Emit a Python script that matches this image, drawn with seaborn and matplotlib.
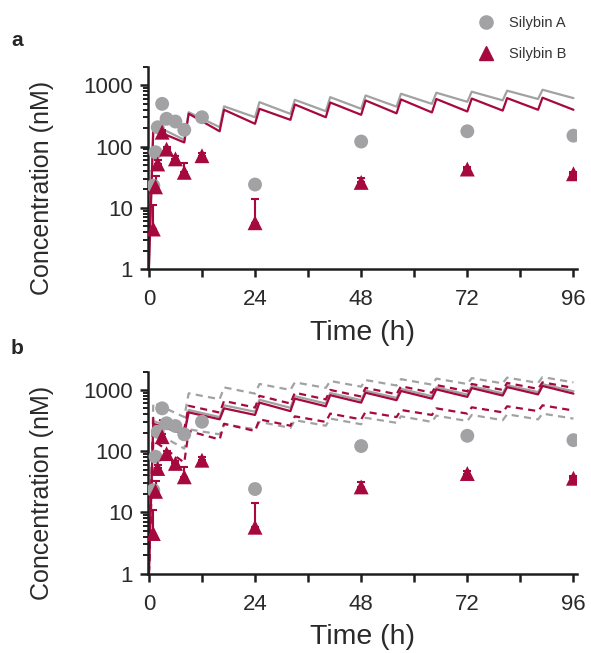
import numpy as np
import pandas as pd
import matplotlib
matplotlib.use("Agg")
import matplotlib.pyplot as plt
from matplotlib.lines import Line2D
from matplotlib.ticker import FixedLocator, LogLocator, NullFormatter
import seaborn as sns

# observed data (mean, upper error bar end)
obs_time = [1, 1.5, 2, 3, 4, 6, 8, 12, 24, 48, 72, 96]
silA_obs = [23, 81, 207, 500, 285, 257, 188, 302, 24, 121, 178, 151]
silA_err_hi = [26, 90, 230, 540, 310, 280, 205, 330, 29, 132, 192, 165]
silB_obs = [4.5, 22, 52, 172, 91, 63, 38, 71, 5.7, 26, 43, 36]
silB_err_hi = [11, 33, 60, 190, 100, 70, 55, 80, 14, 31, 47, 39]

# simulated profiles: dose every 8 h, peak ~1 h after dose, trough just before next dose
dose_h = [0, 8, 16, 24, 32, 40, 48, 56, 64, 72, 80, 88]
a_silA_peak = [230, 365, 455, 533, 582, 643, 685, 731, 760, 790, 820, 850]
a_silA_trough = [129, 208, 302, 343, 379, 415, 450, 500, 540, 570, 600, 620]
a_silB_peak = [190, 345, 400, 415, 488, 526, 568, 590, 600, 610, 620, 630]
a_silB_trough = [117, 178, 236, 274, 302, 331, 350, 362, 375, 388, 400, 400]

b_silA_mid_peak = [310, 470, 560, 690, 790, 890, 970, 1040, 1100, 1150, 1190, 1240]
b_silA_mid_trough = [210, 360, 440, 510, 600, 680, 740, 790, 840, 880, 920, 950]
b_silB_mid_peak = [280, 430, 500, 620, 720, 820, 900, 960, 1020, 1070, 1110, 1160]
b_silB_mid_trough = [190, 331, 390, 450, 540, 620, 680, 720, 770, 810, 845, 870]
b_silA_hi_peak = [620, 880, 1100, 1250, 1330, 1400, 1450, 1500, 1530, 1560, 1590, 1620]
b_silA_hi_trough = [360, 705, 870, 1000, 1080, 1130, 1180, 1220, 1250, 1280, 1300, 1330]
b_silB_hi_peak = [350, 550, 660, 800, 900, 1000, 1080, 1150, 1200, 1250, 1300, 1330]
b_silB_hi_trough = [230, 426, 515, 600, 700, 780, 850, 900, 950, 1000, 1040, 1080]
b_silA_lo_peak = [210, 227, 276, 300, 320, 340, 350, 370, 380, 390, 400, 410]
b_silA_lo_trough = [110, 188, 227, 240, 260, 275, 290, 300, 310, 320, 330, 340]
b_silB_lo_peak = [150, 213, 280, 330, 370, 410, 440, 470, 500, 520, 540, 560]
b_silB_lo_trough = [65, 155, 213, 260, 300, 330, 360, 390, 410, 430, 450, 460]

GRAY = "#a2a2a4"
RED = "#a6093d"
INK = "#1e1e1e"
palette = {"Silybin A": GRAY, "Silybin B": RED}


def profile(peaks, troughs, compound, band):
    t, c = [0.0], [1.0]
    for d, p, tr in zip(dose_h, peaks, troughs):
        t += [d + 1, d + 8]
        c += [p, tr]
    return pd.DataFrame({"time": t, "conc": c, "compound": compound, "band": band})


sim_a = pd.concat([
    profile(a_silA_peak, a_silA_trough, "Silybin A", "mid"),
    profile(a_silB_peak, a_silB_trough, "Silybin B", "mid"),
])
sim_b = pd.concat([
    profile(b_silA_hi_peak, b_silA_hi_trough, "Silybin A", "hi"),
    profile(b_silA_lo_peak, b_silA_lo_trough, "Silybin A", "lo"),
    profile(b_silB_hi_peak, b_silB_hi_trough, "Silybin B", "hi"),
    profile(b_silB_lo_peak, b_silB_lo_trough, "Silybin B", "lo"),
    profile(b_silA_mid_peak, b_silA_mid_trough, "Silybin A", "mid"),
    profile(b_silB_mid_peak, b_silB_mid_trough, "Silybin B", "mid"),
])

obs = pd.DataFrame({
    "time": obs_time * 2,
    "conc": silA_obs + silB_obs,
    "hi": silA_err_hi + silB_err_hi,
    "compound": ["Silybin A"] * len(obs_time) + ["Silybin B"] * len(obs_time),
})

sns.set_theme(style="ticks")
plt.rcParams["font.family"] = ["Liberation Sans", "DejaVu Sans"]

fig = plt.figure(figsize=(5.91, 6.53), dpi=100)
ax_a = fig.add_axes([148 / 591, 1 - 269 / 653, 429 / 591, 202 / 653])
ax_b = fig.add_axes([148 / 591, 1 - 573.5 / 653, 429 / 591, 202 / 653])


def draw(ax, sim):
    sns.lineplot(data=sim, x="time", y="conc", hue="compound", style="band",
                 palette=palette, dashes={"mid": "", "hi": (3.2, 2.4), "lo": (3.2, 2.4)},
                 estimator=None, sort=False, linewidth=1.6, legend=False, ax=ax, zorder=2)
    for comp, col in palette.items():
        sub = obs[obs["compound"] == comp]
        ax.errorbar(sub["time"], sub["conc"], yerr=[np.zeros(len(sub)), sub["hi"] - sub["conc"]],
                    fmt="none", ecolor=col, elinewidth=1.5, capsize=3, capthick=1.5, zorder=3)
    sns.scatterplot(data=obs, x="time", y="conc", hue="compound", style="compound",
                    markers={"Silybin A": "o", "Silybin B": "^"}, palette=palette,
                    size="compound", sizes={"Silybin A": 100, "Silybin B": 115},
                    edgecolor="none", legend=False, ax=ax, zorder=4)
    ax.set_yscale("log")
    ax.set_ylim(1, 2000)
    ax.set_xlim(-0.2, 96.8)
    ax.xaxis.set_major_locator(FixedLocator([0, 24, 48, 72, 96]))
    ax.xaxis.set_minor_locator(FixedLocator([12, 36, 60, 84]))
    ax.yaxis.set_major_locator(FixedLocator([1, 10, 100, 1000]))
    ax.yaxis.set_minor_locator(LogLocator(base=10, subs=np.arange(2, 10), numticks=20))
    ax.yaxis.set_minor_formatter(NullFormatter())
    ax.set_yticklabels(["1", "10", "100", "1000"])
    ax.tick_params(axis="both", which="major", length=6, width=1.8, labelsize=16,
                   color=INK, labelcolor="#2a2a2a")
    ax.tick_params(axis="x", which="major", pad=8.5)
    ax.tick_params(axis="y", which="major", pad=5)
    ax.tick_params(axis="y", which="minor", length=3.5, width=1.4, color=INK)
    ax.tick_params(axis="x", which="minor", length=6, width=1.8, color=INK)
    for s in ["left", "bottom"]:
        ax.spines[s].set_linewidth(1.8)
        ax.spines[s].set_color(INK)
    sns.despine(ax=ax)
    ax.set_xlabel("Time (h)", fontsize=20.5, color="#2a2a2a", labelpad=7)
    ax.set_ylabel("Concentration (nM)", fontsize=18, color="#2a2a2a")
    ax.yaxis.set_label_coords(-0.218, 0.40)


draw(ax_a, sim_a)
draw(ax_b, sim_b)

fig.text(11 / 591, 1 - 40 / 653, "a", fontsize=15, fontweight="bold", va="center")
fig.text(11 / 591, 1 - 348 / 653, "b", fontsize=15, fontweight="bold", va="center")

handles = [
    Line2D([], [], marker="o", color=GRAY, linestyle="none", markersize=9.5),
    Line2D([], [], marker="^", color=RED, linestyle="none", markersize=10.5),
]
fig.legend(handles, ["Silybin A", "Silybin B"], loc="upper left",
           bbox_to_anchor=(458 / 591, 1 - 3 / 653), frameon=False, fontsize=10.5,
           labelspacing=1.15, handletextpad=0.6, labelcolor="#333333")

fig.savefig("out.png", dpi=100)
